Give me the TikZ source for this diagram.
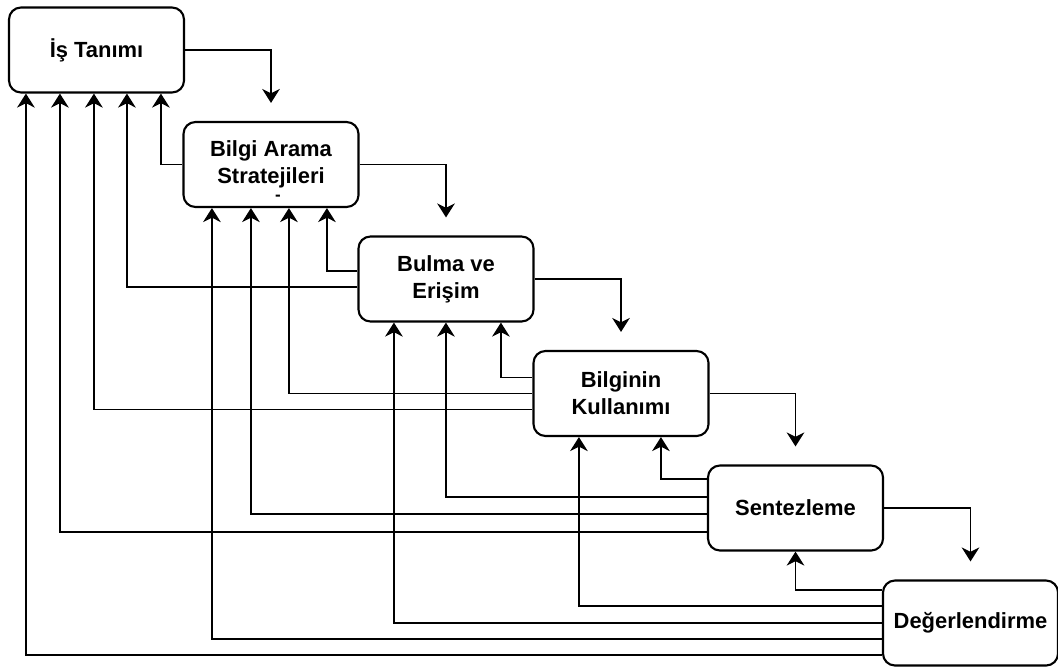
\documentclass[tikz,border=0pt]{standalone}
\usepackage{fontspec}
\setmainfont{Liberation Sans}
\usetikzlibrary{calc,arrows.meta}

\begin{document}
\begin{tikzpicture}[
  x=0.025cm, y=-0.025cm,
  box/.style={draw, line width=1.5pt, rounded corners=0.3cm,
    minimum width=4.375cm, minimum height=2.125cm, inner sep=0pt,
    align=center, font=\bfseries\fontsize{15.6}{19}\selectfont},
  arr/.style={-{Stealth[length=0.35cm,width=0.44cm,inset=0.11cm]}, line width=1.4pt},
]

\fill[white] (0,0) rectangle (1058,667);
\useasboundingbox (0,0) rectangle (1058,667);

% Boxes
\node[box] (istanim) at (96.5,50) {İş Tanımı};
\node[box] (bilgiarama) at (271,164.5) {Bilgi Arama\\Stratejileri};
\node[inner sep=0pt, font=\bfseries\fontsize{12}{12}\selectfont] (bilgidash) at ($(bilgiarama.south)+(7,-10)$) {-};
\node[box] (bulma) at (446,279) {Bulma ve\\Erişim};
\node[box] (kullanim) at (621,393.5) {Bilginin\\Kullanımı};
\node[box] (sentez) at (795.5,508) {Sentezleme};
\node[box] (degerlendirme) at (970.5,623) {Değerlendirme};

% forward arrows
\draw[arr] (istanim.east) -| ($(bilgiarama.north)+(0,-18)$);
\draw[arr] (bilgiarama.east) -| ($(bulma.north)+(0,-18)$);
\draw[arr] (bulma.east) -| ($(kullanim.north)+(0,-18)$);
\draw[arr] (kullanim.east) -| ($(sentez.north)+(0,-18)$);
\draw[arr] (sentez.east) -| ($(degerlendirme.north)+(0,-18)$);

% Bilgi Arama back
\draw[arr] (bilgiarama.west) -| ($(istanim.south west)+(153,0)$);

% Bulma back
\draw[arr] ($(bulma.west)+(0,-8)$) -| ($(bilgiarama.south west)+(144.5,0)$);
\draw[arr] ($(bulma.west)+(0,8)$) -| ($(istanim.south west)+(119,0)$);

% Kullanim back
\draw[arr] ($(kullanim.west)+(0,-16)$) -| ($(bulma.south west)+(143.5,0)$);
\draw[arr] (kullanim.west) -| ($(bilgiarama.south west)+(106.5,0)$);
\draw[arr] ($(kullanim.west)+(0,16)$) -| ($(istanim.south west)+(86,0)$);

% Sentez back
\draw[arr] ($(sentez.west)+(0,-29)$) -| ($(kullanim.south west)+(128.5,0)$);
\draw[arr] ($(sentez.west)+(0,-11)$) -| ($(bulma.south west)+(88.5,0)$);
\draw[arr] ($(sentez.west)+(0,6)$) -| ($(bilgiarama.south west)+(68.5,0)$);
\draw[arr] ($(sentez.west)+(0,24)$) -| ($(istanim.south west)+(52,0)$);

% Degerlendirme back
\draw[arr] ($(degerlendirme.west)+(0,-33)$) -| (sentez.south);
\draw[arr] ($(degerlendirme.west)+(0,-17)$) -| ($(kullanim.south west)+(46.5,0)$);
\draw[arr] (degerlendirme.west) -| ($(bulma.south west)+(36.5,0)$);
\draw[arr] ($(degerlendirme.west)+(0,16)$) -| ($(bilgiarama.south west)+(29.5,0)$);
\draw[arr] ($(degerlendirme.west)+(0,32)$) -| ($(istanim.south west)+(18,0)$);

\end{tikzpicture}
\end{document}
